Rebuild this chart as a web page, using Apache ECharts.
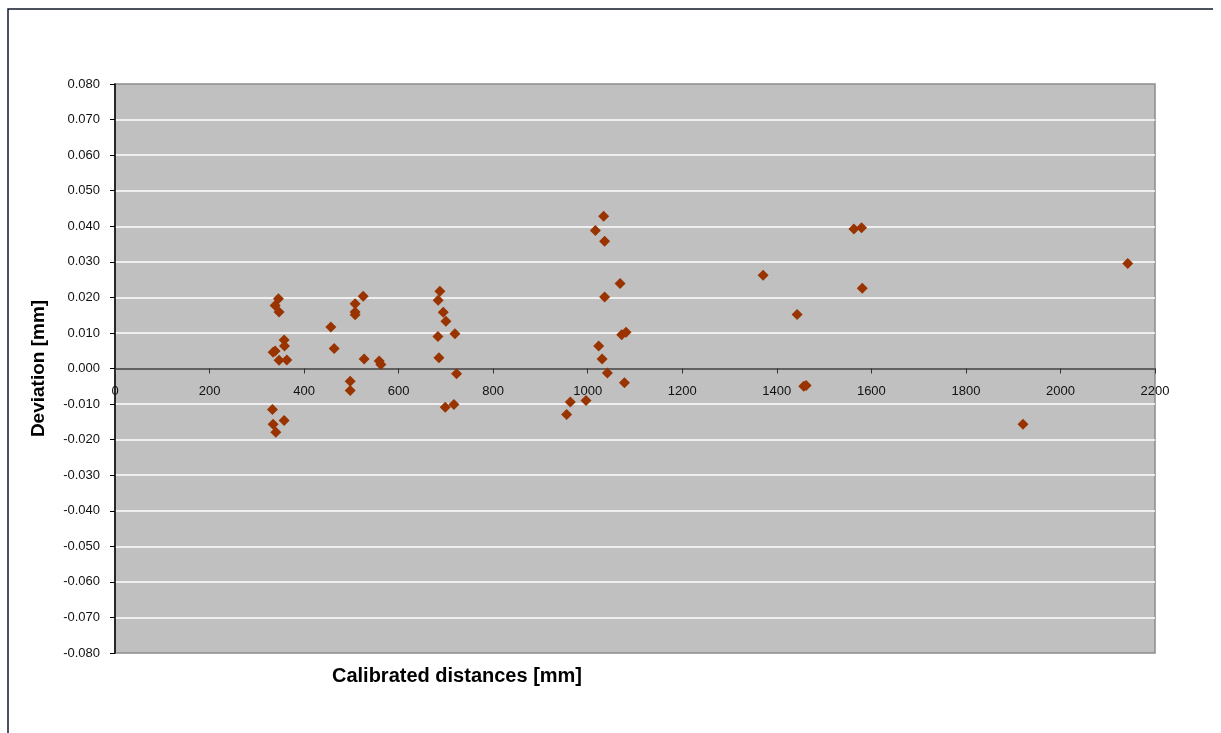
<!DOCTYPE html>
<html>
<head>
<meta charset="utf-8">
<script src="https://cdn.jsdelivr.net/npm/echarts@6/dist/echarts.min.js"></script>
<style>
html,body{margin:0;padding:0;background:#fff;}
#chart{width:1221px;height:733px;}
</style>
</head>
<body>
<div id="chart"></div>
<script>
const xTitle = 'Calibrated distances [mm]';
const yTitle = 'Deviation [mm]';
const xTicks = [0, 200, 400, 600, 800, 1000, 1200, 1400, 1600, 1800, 2000, 2200];
const yTicks = [-0.08, -0.07, -0.06, -0.05, -0.04, -0.03, -0.02, -0.01, 0, 0.01, 0.02, 0.03, 0.04, 0.05, 0.06, 0.07, 0.08];

const distances = [
  345.7, 338.7, 347, 357.8, 358.5, 338.7, 334.5, 347, 363.4, 333, 334.5, 357.8, 340.2,
  456.6, 463.6, 525, 508, 508, 508, 527, 497.5, 497.5, 558.9, 562.4,
  687.3, 683.6, 694.4, 700, 719.1, 683.1, 685.3, 722.6, 698.6, 717,
  1033.8, 1016.2, 1035.8, 1068.4, 1035.8, 1071.9, 1081.1, 1023.2, 1030.4, 1041.6, 1077.6, 963.2, 996.4, 955.4,
  1371, 1443, 1457, 1462, 1563, 1579.3, 1580.7, 1920.8, 2142.4
];
const deviations = [
  0.0196, 0.0177, 0.0159, 0.0080, 0.0063, 0.0049, 0.0046, 0.0023, 0.0024, -0.0115, -0.0157, -0.0146, -0.0179,
  0.0117, 0.0056, 0.0203, 0.0182, 0.0159, 0.0151, 0.0027, -0.0036, -0.0062, 0.0021, 0.0011,
  0.0217, 0.0192, 0.0158, 0.0133, 0.0098, 0.0090, 0.0030, -0.0015, -0.0109, -0.0101,
  0.0428, 0.0388, 0.0358, 0.0239, 0.0201, 0.0095, 0.0102, 0.0063, 0.0027, -0.0013, -0.0040, -0.0094, -0.0090, -0.0129,
  0.0262, 0.0152, -0.0050, -0.0048, 0.0392, 0.0396, 0.0226, -0.0157, 0.0295
];

const points = distances.map((d, i) => [d, deviations[i]]);

const gridTop = 84, gridBottom = 80, chartH = 733;
const yMin = yTicks[0], yMax = yTicks[yTicks.length - 1];
const plotH = chartH - gridTop - gridBottom;
// offset to put the x axis (with its labels) on the zero line
const zeroOffset = -plotH * (0 - yMin) / (yMax - yMin);

const chart = echarts.init(document.getElementById('chart'), null, {renderer: 'canvas'});
const font = "'Liberation Sans', Arial, sans-serif";
chart.setOption({
  animation: false,
  grid: {
    left: 115, top: gridTop, right: 66, bottom: gridBottom,
    show: true, backgroundColor: '#c0c0c0', borderColor: '#8c8c8c', borderWidth: 1.5
  },
  xAxis: {
    type: 'value',
    min: xTicks[0], max: xTicks[xTicks.length - 1], interval: 200,
    offset: zeroOffset,
    axisLine: {show: true, onZero: false, lineStyle: {color: '#333', width: 1.5}},
    axisTick: {show: true, length: 5, lineStyle: {color: '#333'}},
    axisLabel: {color: '#111', fontFamily: font, fontSize: 13, margin: 16,
      formatter: v => String(v)},
    splitLine: {show: false}
  },
  yAxis: {
    type: 'value',
    min: yMin, max: yMax, interval: 0.01,
    name: yTitle, nameLocation: 'middle', nameGap: 67,
    nameTextStyle: {fontFamily: font, fontWeight: 'bold', fontSize: 19, color: '#000'},
    axisLine: {show: true, onZero: false, lineStyle: {color: '#000', width: 1.5}},
    axisTick: {show: true, length: 5, lineStyle: {color: '#000'}},
    axisLabel: {color: '#111', fontFamily: font, fontSize: 13, margin: 15,
      formatter: v => v.toFixed(3)},
    splitLine: {show: true, showMinLine: false, showMaxLine: false, lineStyle: {color: '#ffffff', width: 1.5}}
  },
  series: [{
    type: 'scatter',
    data: points,
    symbol: 'diamond',
    symbolSize: 11,
    itemStyle: {color: '#993300', opacity: 1}
  }],
  graphic: [
    {type: 'polyline', shape: {points: [[8, 733], [8, 9], [1213, 9]]}, style: {stroke: '#101828', lineWidth: 1.5, fill: null}, silent: true},
    {type: 'text', x: 457, y: 676, style: {text: xTitle, font: "bold 20px 'Liberation Sans', Arial, sans-serif", fill: '#000', align: 'center', verticalAlign: 'middle'}}
  ]
});
</script>
</body>
</html>
